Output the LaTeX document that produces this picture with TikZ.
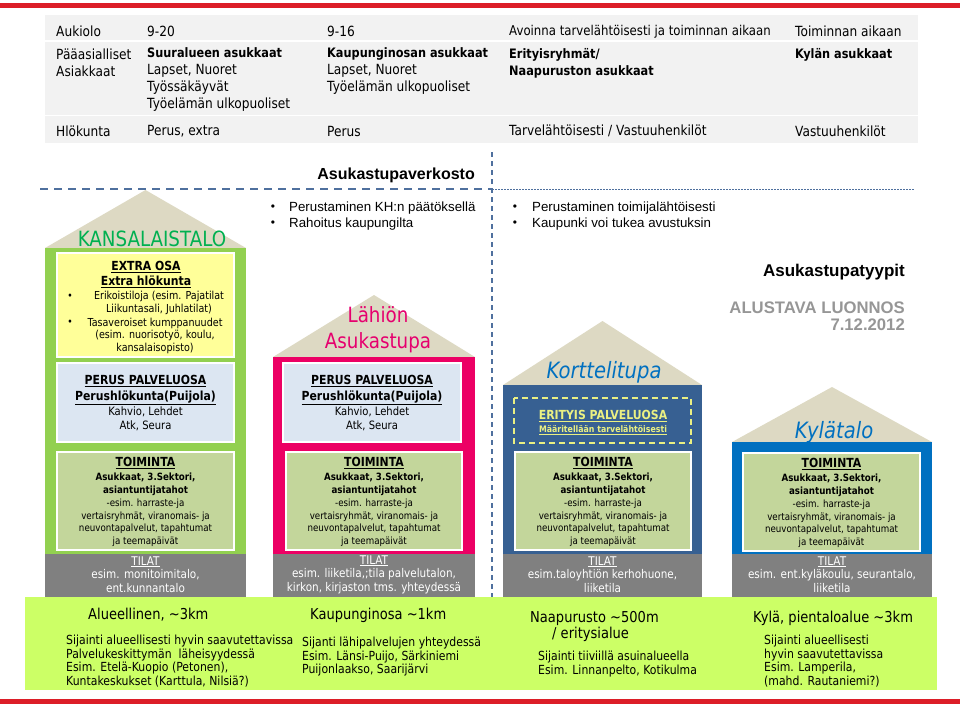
\documentclass[tikz,border=0pt]{standalone}
\usepackage{fontspec}
\setmainfont{Liberation Sans}
\newfontfamily\tah[FakeStretch=0.87]{DejaVu Sans}

\definecolor{punainen}{RGB}{220,30,40}
\definecolor{taulupohja}{RGB}{242,242,242}
\definecolor{katto}{RGB}{221,217,195}
\definecolor{vihrea}{RGB}{146,208,80}
\definecolor{pinkki}{RGB}{236,0,100}
\definecolor{tummasininen}{RGB}{55,96,146}
\definecolor{sininen}{RGB}{0,112,192}
\definecolor{keltainen}{RGB}{255,255,153}
\definecolor{vaaleansininen}{RGB}{220,230,242}
\definecolor{oliivi}{RGB}{195,214,155}
\definecolor{harmaa}{RGB}{128,128,128}
\definecolor{limetti}{RGB}{204,255,102}
\definecolor{viiva}{RGB}{79,112,158}
\definecolor{taloteksti}{RGB}{0,176,80}
\definecolor{lahiteksti}{RGB}{230,0,110}
\definecolor{erityis}{RGB}{235,240,130}
\definecolor{luonnos}{RGB}{150,150,150}

\tikzset{
  taulu/.style={anchor=west, inner sep=0pt, align=left, font=\tah\fontsize{14}{16.7}\selectfont},
  otsikko/.style={inner sep=0pt, align=center, font=\tah\bfseries\fontsize{12.5}{15.5}\selectfont},
  pieni/.style={inner sep=0pt, align=center, font=\tah\fontsize{10}{12.8}\selectfont},
  tilateksti/.style={inner sep=0pt, align=center, text=white, font=\tah\fontsize{12}{13.5}\selectfont},
  alue/.style={anchor=west, inner sep=0pt, align=left, font=\tah\fontsize{12.5}{13.5}\selectfont},
  alueotsikko/.style={anchor=west, inner sep=0pt, font=\tah\fontsize{15}{17}\selectfont},
  luettelo/.style={anchor=west, inner sep=0pt, font=\fontsize{13.3}{16}\selectfont},
  luetelma/.style={inner sep=0pt, font=\fontsize{12}{14}\selectfont},
  oikea/.style={anchor=east, inner sep=0pt, font=\bfseries\fontsize{16.7}{19}\selectfont},
}

% lihavoitu taulukkoteksti
\newcommand{\lih}[1]{{\bfseries\fontsize{13}{16.7}\selectfont #1}}

% talo: vasen, oikea, harja, katon alareuna, rungon alareuna, vari
\newcommand{\talo}[6]{
  \fill[katto] (#1,#4) -- ({(#1+#2)/2},#3) -- (#2,#4) -- cycle;
  \fill[#6] (#1,#4) rectangle (#2,#5);
}

% perus palveluosa: x1, y1, x2, y2, nimi
\newcommand{\perus}[5]{
  \filldraw[fill=vaaleansininen, draw=white, line width=1.2] (#1,#2) rectangle (#3,#4);
  \node[otsikko] (#5-otsikko) at ({(#1+#3)/2},{#2+27}) {\underline{PERUS PALVELUOSA}\\\underline{Perushlökunta(Puijola)}};
  \node[pieni, font=\tah\fontsize{11.5}{14}\selectfont] (#5-teksti) at ({(#1+#3)/2},{#2+56}) {Kahvio, Lehdet\\Atk, Seura};
}

% toiminta: x1, y1, x2, y2, nimi
\newcommand{\toiminta}[5]{
  \filldraw[fill=oliivi, draw=white, line width=1.2] (#1,#2) rectangle (#3,#4);
  \node[otsikko] (#5-otsikko) at ({(#1+#3)/2},{#2+11}) {\underline{TOIMINTA}};
  \node[pieni] (#5-teksti) at ({(#1+#3)/2},{#2+58}) {\textbf{Asukkaat, 3.Sektori,}\\\textbf{asiantuntijatahot}\\-esim. harraste-ja\\vertaisryhmät, viranomais- ja\\neuvontapalvelut, tapahtumat\\ja teemapäivät};
}

% tilat: x1, x2, teksti, nimi
\newcommand{\tilat}[4]{
  \fill[harmaa] (#1,554) rectangle (#2,600);
  \node[tilateksti] (#4) at ({(#1+#2)/2},574.5) {\underline{TILAT}\\#3};
}

\begin{document}
\begin{tikzpicture}[x=1pt,y=-1pt]
\useasboundingbox (0,0) rectangle (960,704);

% reunaviivat
\fill[punainen] (0,3) rectangle (960,8);
\fill[punainen] (0,699) rectangle (960,704);

% taulukko
\fill[taulupohja] (45,15) rectangle (918,143);
\draw[white, line width=1.5] (45,41) -- (918,41);
\draw[white, line width=1.5] (45,115.5) -- (918,115.5);

\node[taulu] (aukiolo) at (56,31.5) {Aukiolo};
\node[taulu] (aukiolo-kt) at (147,31.5) {9-20};
\node[taulu] (aukiolo-lt) at (327,31.5) {9-16};
\node[taulu, font=\tah\fontsize{13.5}{15}\selectfont] (aukiolo-kor) at (509,31.5) {Avoinna tarvelähtöisesti ja toiminnan aikaan};
\node[taulu] (aukiolo-ky) at (795,31.5) {Toiminnan aikaan};

\node[taulu] (asiakkaat) at (56,63) {Pääasialliset\\Asiakkaat};
\node[taulu] (asiakkaat-kt) at (147,79.5) {\lih{Suuralueen asukkaat}\\Lapset, Nuoret\\Työssäkäyvät\\Työelämän ulkopuoliset};
\node[taulu] (asiakkaat-lt) at (327,71) {\lih{Kaupunginosan asukkaat}\\Lapset, Nuoret\\Työelämän ulkopuoliset};
\node[taulu] (asiakkaat-kor) at (509,63) {\lih{Erityisryhmät/}\\\lih{Naapuruston asukkaat}};
\node[taulu] (asiakkaat-ky) at (795,54.5) {\lih{Kylän asukkaat}};

\node[taulu] (hlokunta) at (56,131) {Hlökunta};
\node[taulu] (hlokunta-kt) at (147,131) {Perus, extra};
\node[taulu] (hlokunta-lt) at (327,131) {Perus};
\node[taulu] (hlokunta-kor) at (509,131) {Tarvelähtöisesti / Vastuuhenkilöt};
\node[taulu] (hlokunta-ky) at (795,131) {Vastuuhenkilöt};

% verkoston rajat
\draw[viiva, line width=2.2, dash pattern=on 8 off 6] (40,189) -- (492,189);
\draw[viiva, line width=1.5, dash pattern=on 1.5 off 1.5] (492,189.5) -- (915,189.5);
\draw[viiva, line width=1.8, dash pattern=on 5 off 4] (492,152) -- (492,598);

\node[anchor=east, inner sep=0pt, font=\bfseries\fontsize{16}{18}\selectfont] (verkosto) at (475,175) {Asukastupaverkosto};

\foreach \teksti [count=\i] in {Perustaminen KH:n päätöksellä, Rahoitus kaupungilta} {
  \node[luetelma] (luetelma-a\i) at (273,{192+16*\i}) {•};
  \node[luettelo] (luettelo-a\i) at (289,{192+16*\i}) {\teksti};
}
\foreach \teksti [count=\i] in {Perustaminen toimijalähtöisesti, Kaupunki voi tukea avustuksin} {
  \node[luetelma] (luetelma-b\i) at (515,{192+16*\i}) {•};
  \node[luettelo] (luettelo-b\i) at (532,{192+16*\i}) {\teksti};
}

\node[oikea, font=\bfseries\fontsize{17}{19}\selectfont] (tyypit) at (905,272) {Asukastupatyypit};
\node[oikea, text=luonnos] (luonnos) at (905,307.5) {ALUSTAVA LUONNOS};
\node[oikea, text=luonnos] (paiva) at (905,325) {7.12.2012};

% talot
\talo{45}{246}{190}{248}{554}{vihrea}
\talo{273}{475}{295}{357}{554}{pinkki}
\talo{503}{702}{321}{385}{554}{tummasininen}
\talo{732}{932}{387}{442}{554}{sininen}

% kansalaistalo
\node[inner sep=0pt, text=taloteksti, font=\tah\fontsize{21}{24}\selectfont] (kansalaistalo) at (152,238.5) {KANSALAISTALO};
\filldraw[fill=keltainen, draw=white, line width=1.2] (57,253) rectangle (234,357);
\node[otsikko] (extra) at (146,274.5) {\underline{EXTRA OSA}\\\underline{Extra hlökunta}};
\node[luetelma, font=\tah\fontsize{10.5}{12.5}\selectfont] (extra-p1) at (70,297) {•};
\node[luetelma, font=\tah\fontsize{10.5}{12.5}\selectfont] (extra-p2) at (70,323) {•};
\node[pieni, font=\tah\fontsize{11}{12.3}\selectfont] (extra-a) at (159,303) {Erikoistiloja (esim. Pajatilat\\Liikuntasali, Juhlatilat)};
\node[pieni, font=\tah\fontsize{11}{12.5}\selectfont] (extra-b) at (155,335.5) {Tasaveroiset kumppanuudet\\(esim. nuorisotyö, koulu,\\kansalaisopisto)};
\perus{57}{363}{234}{442}{kt-perus}
\toiminta{57}{452}{234}{550}{kt-toiminta}
\tilat{45}{246}{esim. monitoimitalo,\\ent.kunnantalo}{kt-tilat}

% lahion asukastupa
\node[inner sep=0pt, align=center, text=lahiteksti, font=\tah\fontsize{21}{26}\selectfont] (lahio) at (378,330) {Lähiön\\Asukastupa};
\perus{283}{363}{461}{442}{lt-perus}
\toiminta{286}{452}{462}{550}{lt-toiminta}
\tilat{273}{475}{esim. liiketila,;tila palvelutalon,\\kirkon, kirjaston tms. yhteydessä}{lt-tilat}

% korttelitupa
\node[inner sep=0pt, text=sininen, font=\tah\itshape\fontsize{22.5}{26}\selectfont] (korttelitupa) at (604,372) {Korttelitupa};
\draw[erityis, line width=1.3, dash pattern=on 6 off 4] (514,398) rectangle (691,443);
\node[otsikko, text=erityis] (erityis-otsikko) at (603,416) {\underline{ERITYIS PALVELUOSA}};
\node[pieni, text=erityis, font=\tah\bfseries\fontsize{9}{11}\selectfont] (erityis-teksti) at (603,430.5) {\underline{Määritellään tarvelähtöisesti}};
\toiminta{515}{452}{691}{550}{kor-toiminta}
\tilat{503}{702}{esim.taloyhtiön kerhohuone,\\liiketila}{kor-tilat}

% kylatalo
\node[inner sep=0pt, text=sininen, font=\tah\itshape\fontsize{22.5}{26}\selectfont] (kylatalo) at (834,432) {Kylätalo};
\toiminta{743}{453}{920}{551}{ky-toiminta}
\tilat{732}{932}{esim. ent.kyläkoulu, seurantalo,\\liiketila}{ky-tilat}

% alueet
\fill[limetti] (25,597) rectangle (937,690);
\node[alueotsikko] (alue-kt) at (88,615) {Alueellinen, \textasciitilde 3km};
\node[alue] (alue-kt-teksti) at (66,661) {Sijainti alueellisesti hyvin saavutettavissa\\Palvelukeskittymän \ läheisyydessä\\Esim. Etelä-Kuopio (Petonen),\\Kuntakeskukset (Karttula, Nilsiä?)};
\node[alueotsikko] (alue-lt) at (310,615) {Kaupunginosa \textasciitilde 1km};
\node[alue] (alue-lt-teksti) at (302,657) {Sijanti lähipalvelujen yhteydessä\\Esim. Länsi-Puijo, Särkiniemi\\Puijonlaakso, Saarijärvi};
\node[alueotsikko] (alue-kor) at (530,618) {Naapurusto \textasciitilde 500m};
\node[alueotsikko] (alue-kor-b) at (552,634) {/ eritysialue};
\node[alue] (alue-kor-teksti) at (538,664) {Sijainti tiiviillä asuinalueella\\Esim. Linnanpelto, Kotikulma};
\node[alueotsikko] (alue-ky) at (753,618) {Kylä, pientaloalue \textasciitilde 3km};
\node[alue] (alue-ky-teksti) at (764,661) {Sijainti alueellisesti\\hyvin saavutettavissa\\Esim. Lamperila,\\(mahd. Rautaniemi?)};
\end{tikzpicture}
\end{document}
